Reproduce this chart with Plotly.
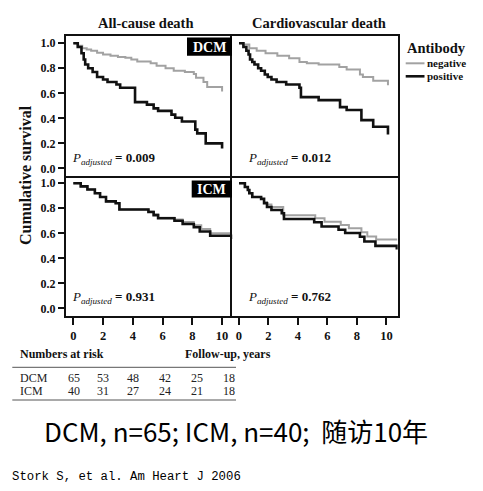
import plotly.graph_objects as go

W, H = 483, 491


def px(x):
    return x / W


def py(y):
    return 1 - y / H


# ---------------- data ----------------
panel_titles = ["All-cause death", "Cardiovascular death"]
group_labels = ["DCM", "ICM"]
p_values = ["0.009", "0.012", "0.931", "0.762"]

dcm_all_neg_t = [0, 0.3, 0.6, 0.9, 1.2, 1.6, 2.0, 2.5, 3.0, 3.5, 3.9, 4.3, 5.2, 5.6, 6.2, 6.75, 7.5, 8.1, 8.25, 8.75, 9.0, 10.0, 10.0]
dcm_all_neg_s = [1.0, 0.98, 0.96, 0.95, 0.94, 0.925, 0.91, 0.90, 0.89, 0.885, 0.87, 0.855, 0.84, 0.82, 0.80, 0.78, 0.77, 0.755, 0.725, 0.69, 0.65, 0.645, 0.615]
dcm_all_pos_t = [0, 0.3, 0.55, 0.7, 0.8, 1.0, 1.3, 1.6, 2.0, 2.3, 2.9, 3.15, 4.15, 4.95, 5.4, 5.7, 6.6, 6.85, 7.3, 8.2, 8.33, 8.9, 10.0, 10.0]
dcm_all_pos_s = [1.0, 0.97, 0.92, 0.87, 0.83, 0.80, 0.77, 0.73, 0.71, 0.69, 0.67, 0.645, 0.53, 0.51, 0.48, 0.46, 0.43, 0.405, 0.375, 0.31, 0.28, 0.20, 0.20, 0.16]

dcm_cv_neg_t = [0, 0.3, 0.7, 1.2, 1.8, 2.6, 3.4, 4.1, 4.6, 5.4, 6.8, 7.3, 8.2, 8.4, 9.1, 10.1, 10.1]
dcm_cv_neg_s = [1.0, 0.99, 0.96, 0.94, 0.92, 0.90, 0.88, 0.85, 0.84, 0.83, 0.81, 0.79, 0.75, 0.73, 0.70, 0.695, 0.665]
dcm_cv_pos_t = [0, 0.3, 0.5, 0.65, 0.75, 0.9, 1.05, 1.3, 1.5, 1.75, 1.95, 2.2, 2.55, 3.2, 4.1, 4.2, 5.4, 6.85, 7.3, 8.3, 9.1, 10.1, 10.1]
dcm_cv_pos_s = [1.0, 0.97, 0.94, 0.91, 0.87, 0.85, 0.83, 0.80, 0.78, 0.75, 0.73, 0.71, 0.69, 0.67, 0.645, 0.57, 0.546, 0.49, 0.467, 0.386, 0.333, 0.333, 0.27]

icm_all_neg_t = [0, 0.5, 0.95, 1.45, 1.8, 2.2, 2.85, 3.1, 5.05, 5.4, 5.7, 6.8, 7.35, 8.1, 8.6, 9.2, 10.65]
icm_all_neg_s = [1.0, 0.975, 0.95, 0.92, 0.89, 0.855, 0.84, 0.79, 0.775, 0.75, 0.725, 0.71, 0.69, 0.665, 0.635, 0.60, 0.60]
icm_all_pos_t = [0, 0.5, 0.95, 1.45, 1.8, 2.2, 2.85, 3.1, 5.05, 5.4, 5.7, 6.8, 7.35, 8.1, 8.5, 9.2, 10.65, 10.65]
icm_all_pos_s = [1.0, 0.975, 0.95, 0.92, 0.89, 0.855, 0.84, 0.79, 0.77, 0.745, 0.72, 0.70, 0.675, 0.648, 0.615, 0.58, 0.58, 0.555]

icm_cv_neg_t = [0, 0.4, 0.6, 0.7, 0.9, 1.5, 1.7, 1.9, 2.2, 3.0, 5.17, 5.8, 6.9, 7.45, 8.3, 8.7, 9.3, 10.74]
icm_cv_neg_s = [1.0, 0.97, 0.946, 0.92, 0.89, 0.875, 0.85, 0.83, 0.81, 0.745, 0.72, 0.693, 0.666, 0.64, 0.608, 0.575, 0.55, 0.55]
icm_cv_pos_t = [0, 0.4, 0.6, 0.7, 0.9, 1.5, 1.7, 1.9, 2.2, 2.9, 3.05, 5.1, 5.6, 6.75, 7.2, 8.2, 8.5, 9.25, 10.7, 10.7]
icm_cv_pos_s = [1.0, 0.97, 0.946, 0.92, 0.89, 0.875, 0.84, 0.81, 0.786, 0.76, 0.715, 0.688, 0.655, 0.628, 0.603, 0.573, 0.535, 0.50, 0.50, 0.47]

x_ticks = [0, 2, 4, 6, 8, 10]
y_ticks = [0.0, 0.2, 0.4, 0.6, 0.8, 1.0]
y_tick_labels = ["0.0", "0.2", "0.4", "0.6", "0.8", "1.0"]

risk_groups = ["DCM", "ICM"]
risk_dcm = [65, 53, 48, 42, 25, 18]
risk_icm = [40, 31, 27, 24, 21, 18]

legend_title = "Antibody"
legend_labels = ["negative", "positive"]

caption = "DCM, n=65; ICM, n=40;  随访10年"
citation = "Stork S, et al. Am Heart J 2006"

# ---------------- styling ----------------
SERIF = "Liberation Serif, Times New Roman, DejaVu Serif, serif"
GRAY = "#a2a2a2"
BLACK = "#111111"

fig = go.Figure()

panels = [
    ("", dcm_all_neg_t, dcm_all_neg_s, dcm_all_pos_t, dcm_all_pos_s),
    ("2", dcm_cv_neg_t, dcm_cv_neg_s, dcm_cv_pos_t, dcm_cv_pos_s),
    ("3", icm_all_neg_t, icm_all_neg_s, icm_all_pos_t, icm_all_pos_s),
    ("4", icm_cv_neg_t, icm_cv_neg_s, icm_cv_pos_t, icm_cv_pos_s),
]
for suf, nt, ns, pt, ps in panels:
    fig.add_trace(go.Scatter(x=nt, y=ns, mode="lines", line=dict(color=GRAY, width=2, shape="hv"),
                             xaxis="x" + suf, yaxis="y" + suf, showlegend=False, hoverinfo="skip"))
    fig.add_trace(go.Scatter(x=pt, y=ps, mode="lines", line=dict(color=BLACK, width=2.6, shape="hv"),
                             xaxis="x" + suf, yaxis="y" + suf, showlegend=False, hoverinfo="skip"))

col_dom = [[px(65.7), px(232.2)], [px(232.2), px(397.7)]]
row_dom = [[py(175.8), py(36)], [py(315.8), py(176)]]
x_ranges = [[-0.51, 10.68], [-0.46, 10.76]]
y_range = [-0.059, 1.058]

axis_common = dict(showline=True, linecolor="#111", linewidth=1.5,
                   showgrid=False, zeroline=False)
layout_axes = {}
for i, suf in enumerate(["", "2", "3", "4"]):
    r, c = divmod(i, 2)
    xa = dict(axis_common, domain=col_dom[c], range=x_ranges[c], anchor="y" + suf,
              mirror=(r == 0))
    ya = dict(axis_common, domain=row_dom[r], range=y_range, anchor="x" + suf,
              mirror=(c == 1))
    if r == 1:
        xa.update(ticks="outside", ticklen=7, tickwidth=1.5, tickcolor="#111",
                  tickvals=x_ticks, ticktext=["<b>%d</b>" % v for v in x_ticks],
                  tickfont=dict(family=SERIF, size=12.5, color="#111"))
    else:
        xa.update(ticks="", showticklabels=False)
    if c == 0:
        ya.update(ticks="outside", ticklen=6, tickwidth=1.5, tickcolor="#111",
                  tickvals=y_ticks, ticktext=["<b>%s</b>" % s for s in y_tick_labels],
                  tickfont=dict(family=SERIF, size=12, color="#111"))
    else:
        ya.update(ticks="", showticklabels=False)
    layout_axes["xaxis" + suf] = xa
    layout_axes["yaxis" + suf] = ya

ann = []
shapes = []

for title, cx in zip(panel_titles, [145.2, 319.2]):
    ann.append(dict(text="<b>" + title + "</b>", x=px(cx), y=py(22.5), xref="paper", yref="paper",
                    xanchor="center", yanchor="middle", showarrow=False,
                    font=dict(family=SERIF, size=14.5, color="#111")))

ann.append(dict(text="<b>Cumulative survival</b>", x=px(25), y=py(175), xref="paper", yref="paper",
                xanchor="center", yanchor="middle", showarrow=False, textangle=-90,
                font=dict(family=SERIF, size=16, color="#111")))

for label, (x0, x1, y0, y1) in zip(group_labels, [(187, 232, 37.5, 55.8), (191.7, 232, 180.5, 197.5)]):
    shapes.append(dict(type="rect", xref="paper", yref="paper", x0=px(x0), x1=px(x1), y0=py(y1), y1=py(y0),
                       fillcolor="black", line=dict(width=0), layer="above"))
    ann.append(dict(text="<b>" + label + "</b>", x=px((x0 + x1) / 2), y=py((y0 + y1) / 2 + 0.5),
                    xref="paper", yref="paper", xanchor="center", yanchor="middle", showarrow=False,
                    font=dict(family=SERIF, size=14, color="white")))

for pv, (lx, cy) in zip(p_values, [(70, 158), (245.5, 158), (70, 297), (245.5, 297)]):
    ann.append(dict(text="<i>P</i><sub><i>adjusted</i></sub><b> = " + pv + "</b>", x=px(lx), y=py(cy),
                    xref="paper", yref="paper", xanchor="left", yanchor="middle", showarrow=False,
                    font=dict(family=SERIF, size=13, color="#111")))

ann.append(dict(text="<b>" + legend_title + "</b>", x=px(404.5), y=py(48.3), xref="paper", yref="paper",
                xanchor="left", yanchor="middle", showarrow=False,
                font=dict(family=SERIF, size=14.5, color="#111")))
for lab, col, wid, yy in zip(legend_labels, [GRAY, BLACK], [2, 2.6], [63.3, 76.3]):
    shapes.append(dict(type="line", xref="paper", yref="paper", x0=px(405.7), x1=px(424.5),
                       y0=py(yy), y1=py(yy), line=dict(color=col, width=wid)))
    ann.append(dict(text="<b>" + lab + "</b>", x=px(424.5), y=py(yy), xref="paper", yref="paper",
                    xanchor="left", yanchor="middle", showarrow=False,
                    font=dict(family=SERIF, size=11, color="#111")))

ann.append(dict(text="<b>Numbers at risk</b>", x=px(17.5), y=py(354), xref="paper", yref="paper",
                xanchor="left", yanchor="middle", showarrow=False,
                font=dict(family=SERIF, size=12, color="#111")))
ann.append(dict(text="<b>Follow-up, years</b>", x=px(182.5), y=py(354), xref="paper", yref="paper",
                xanchor="left", yanchor="middle", showarrow=False,
                font=dict(family=SERIF, size=12, color="#111")))
for yy in [367.3, 400]:
    shapes.append(dict(type="line", xref="paper", yref="paper", x0=px(12.3), x1=px(236),
                       y0=py(yy), y1=py(yy), line=dict(color="#555", width=1)))
col_x = [73.5, 103.3, 132.8, 164.5, 196.8, 229.2]
for grp, vals, yy in zip(risk_groups, [risk_dcm, risk_icm], [377.5, 391]):
    ann.append(dict(text=grp, x=px(17.5), y=py(yy), xref="paper", yref="paper",
                    xanchor="left", yanchor="middle", showarrow=False,
                    font=dict(family=SERIF, size=12, color="#222")))
    for v, cx in zip(vals, col_x):
        ann.append(dict(text=str(v), x=px(cx), y=py(yy), xref="paper", yref="paper",
                        xanchor="center", yanchor="middle", showarrow=False,
                        font=dict(family=SERIF, size=12, color="#222")))

ann.append(dict(text=caption, x=px(235.5), y=py(430), xref="paper", yref="paper",
                xanchor="center", yanchor="middle", showarrow=False,
                font=dict(family="Noto Sans CJK SC", size=26, color="#000")))
ann.append(dict(text=citation, x=px(9.5), y=py(476.7), xref="paper", yref="paper",
                xanchor="left", yanchor="middle", showarrow=False,
                font=dict(family="Liberation Mono", size=12.3, color="#000")))

fig.update_layout(width=W, height=H, margin=dict(l=0, r=0, t=0, b=0),
                  paper_bgcolor="white", plot_bgcolor="white",
                  annotations=ann, shapes=shapes, showlegend=False,
                  font=dict(family=SERIF, color="#111"), **layout_axes)

fig.write_html("out.html", config={"displayModeBar": False},
               post_script="document.body.style.margin='0';document.body.style.overflow='hidden';")
